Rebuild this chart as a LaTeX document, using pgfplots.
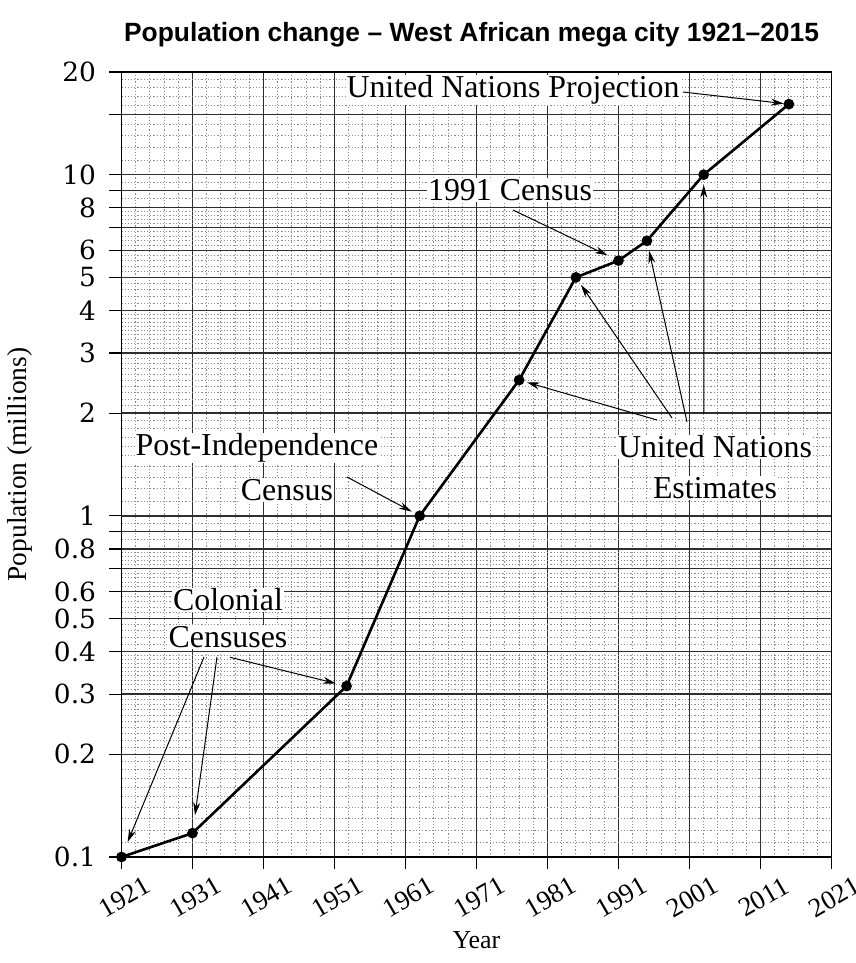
\documentclass[border=0pt]{standalone}
\usepackage{fontspec}
\setmainfont{Liberation Serif}
\newfontfamily\titlefont{Liberation Sans}
\newfontfamily\tickfont{DejaVu Serif}
\usepackage{pgfplots}
\pgfplotsset{compat=1.18}
\usetikzlibrary{arrows.meta}

\begin{document}
\begin{tikzpicture}
\path[use as bounding box] (-121.5bp,-106bp) rectangle (734.5bp,857bp);
\begin{axis}[
  at={(0,0)}, anchor=south west,
  scale only axis, width=710bp, height=785bp,
  ymode=log, xmin=1921, xmax=2021, ymin=0.1, ymax=20,
  clip=false,
  xtick={1921,1931,1941,1951,1961,1971,1981,1991,2001,2011,2021},
  xticklabels={1921,1931,1941,1951,1961,1971,1981,1991,2001,2011,2021},
  minor xtick={1923,1925,1927,1929,1933,1935,1937,1939,1943,1945,1947,1949,1953,1955,1957,1959,1963,1965,1967,1969,1973,1975,1977,1979,1983,1985,1987,1989,1993,1995,1997,1999,2003,2005,2007,2009,2013,2015,2017,2019},
  ytick={0.1,0.2,0.3,0.4,0.5,0.6,0.7,0.8,0.9,1,2,3,4,5,6,7,8,9,10,15,20},
  yticklabels={0.1,0.2,0.3,0.4,0.5,0.6,{},0.8,{},1,2,3,4,5,6,{},8,{},10,{},20},
  minor ytick={0.11,0.12,0.13,0.14,0.15,0.16,0.17,0.18,0.19,0.21,0.22,0.23,0.24,0.25,0.26,0.27,0.28,0.29,0.31,0.32,0.33,0.34,0.35,0.36,0.37,0.38,0.39,0.42,0.44,0.46,0.48,0.52,0.54,0.56,0.58,0.62,0.64,0.66,0.68,0.72,0.74,0.76,0.78,0.85,0.95,
    1.1,1.2,1.3,1.4,1.5,1.6,1.7,1.8,1.9,2.1,2.2,2.3,2.4,2.5,2.6,2.7,2.8,2.9,3.1,3.2,3.3,3.4,3.5,3.6,3.7,3.8,3.9,4.2,4.4,4.6,4.8,5.2,5.4,5.6,5.8,6.2,6.4,6.6,6.8,7.2,7.4,7.6,7.8,8.5,9.5,
    11,12,13,14,16,17,18,19},
  grid=both,
  major grid style={line width=1.5bp, black!82},
  minor grid style={line width=0.9bp, black!45, dash pattern=on 1.2bp off 2bp},
  tick align=outside, tick pos=left,
  major tick length=12bp, minor tick length=0pt,
  every tick/.style={black, line width=1.2bp},
  axis line style={line width=1.8bp},
  yticklabel style={font=\tickfont\fontsize{26.5}{26.5}\selectfont, xshift=-10bp},
  xticklabel style={yshift=-28bp, xshift=3bp, font=\fontsize{27}{27}\selectfont, rotate=30, anchor=center},
  xlabel={Year},
  xlabel style={at={(axis description cs:0.5,-0.1057)}, anchor=center, font=\fontsize{26}{26}\selectfont},
  ylabel={Population (millions)},
  ylabel style={at={(axis description cs:-0.1430,0.5)}, anchor=center, font=\fontsize{27.5}{27.5}\selectfont},
  title={\titlefont\bfseries Population change – West African mega city 1921–2015},
  title style={at={(axis description cs:0.4930,1.0395)}, anchor=center, font=\fontsize{26.5}{26.5}\selectfont},
]
\addplot[black, line width=2.6bp, mark=*, mark size=4bp] coordinates {
  (1921,0.1) (1931,0.1175) (1952.7,0.317) (1963,1.0) (1977,2.5) (1985,5.0)
  (1991,5.6) (1995,6.4) (2003,10.0) (2015,16.1)
};
\tikzset{ann/.style={-{Stealth[length=13bp,width=7bp]}, line width=1bp, black}}
\draw[ann, shorten >=5bp] (rel axis cs:0.7908,0.9745) -- (axis cs:2015,16.1);
\draw[ann, shorten >=12bp] (rel axis cs:0.5514,0.8242) -- (axis cs:1991,5.6);
\draw[ann, shorten >=8bp] (rel axis cs:0.7542,0.5567) -- (axis cs:1977,2.5);
\draw[ann, shorten >=9bp] (rel axis cs:0.7754,0.5592) -- (axis cs:1985,5.0);
\draw[ann, shorten >=10bp] (rel axis cs:0.7965,0.5541) -- (axis cs:1995,6.4);
\draw[ann, shorten >=10bp] (rel axis cs:0.8204,0.5656) -- (axis cs:2003,10.0);
\draw[ann, shorten >=9bp] (rel axis cs:0.3176,0.4841) -- (axis cs:1963,1.0);
\draw[ann, shorten >=16bp] (rel axis cs:0.1162,0.2548) -- (axis cs:1921,0.1);
\draw[ann, shorten >=18bp] (rel axis cs:0.1345,0.2548) -- (axis cs:1931,0.1175);
\draw[ann, shorten >=11bp] (rel axis cs:0.1528,0.2544) -- (axis cs:1952.7,0.317);
\tikzset{lbl/.style={fill=white, inner sep=1bp, font=\fontsize{32}{32}\selectfont}}
\node[lbl] at (rel axis cs:0.5514,0.9771) {United Nations Projection};
\node[lbl] at (rel axis cs:0.5472,0.8497) {1991 Census};
\node[lbl] at (rel axis cs:0.8359,0.5223) {United Nations};
\node[lbl] at (rel axis cs:0.8359,0.4701) {Estimates};
\node[lbl] at (rel axis cs:0.1908,0.5210) {Post-Independence};
\node[lbl] at (rel axis cs:0.2331,0.4675) {Census};
\node[lbl] at (rel axis cs:0.1500,0.3274) {Colonial};
\node[lbl] at (rel axis cs:0.1500,0.2803) {Censuses};
\end{axis}
\end{tikzpicture}
\end{document}
